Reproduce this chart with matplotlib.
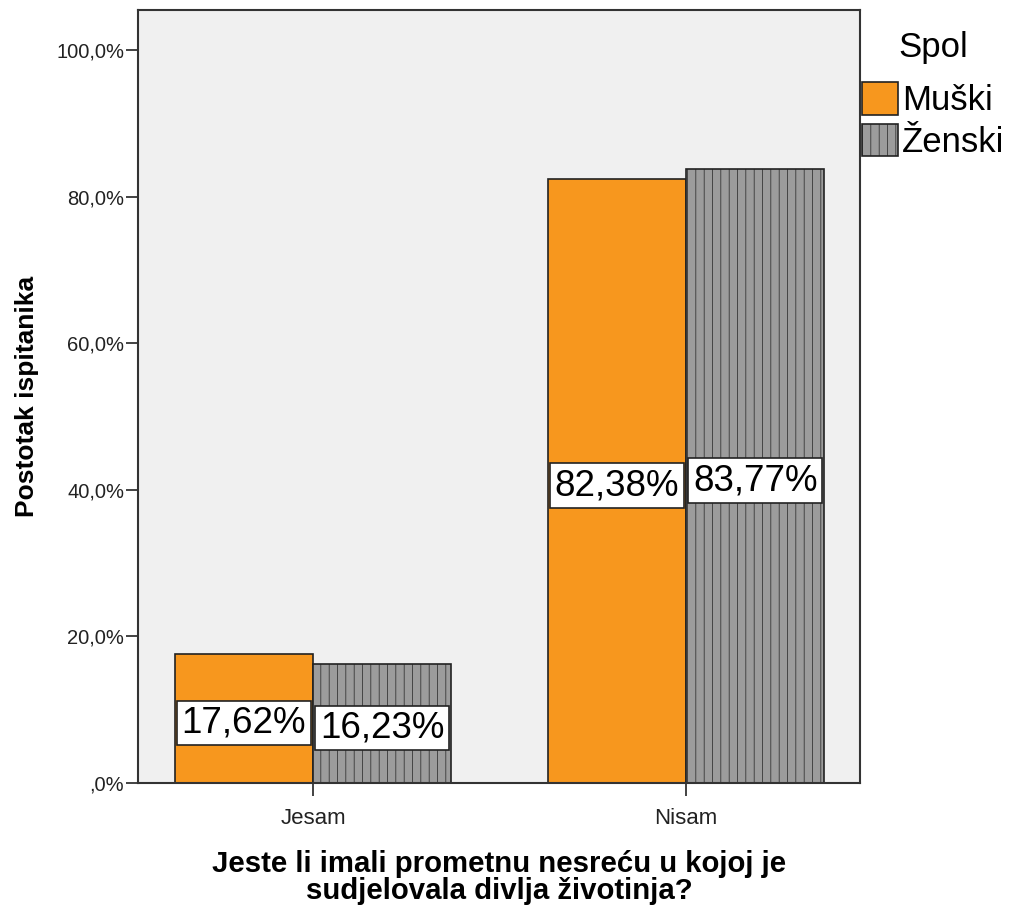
import matplotlib
matplotlib.use("Agg")
import matplotlib.pyplot as plt
import numpy as np

plt.rcParams['font.family'] = ['Liberation Sans', 'DejaVu Sans']
plt.rcParams['hatch.color'] = '#808080'
plt.rcParams['hatch.linewidth'] = 0.5

# data
categories = ['Jesam', 'Nisam']
muski = [17.62, 82.38]
zenski = [16.23, 83.77]
series_names = ['Muški', 'Ženski']
yticks = [0, 20, 40, 60, 80, 100]

orange = '#f7971e'
grey = '#9c9c9c'

fig = plt.figure(figsize=(10.1, 9.1), dpi=100)
ax = fig.add_axes([138 / 1010, 1 - 783 / 910, 722 / 1010, 773 / 910])
ax.set_facecolor('#f0f0f0')

x = np.arange(len(categories))
w = 0.37
b1 = ax.bar(x - w / 2, muski, w, color=orange, edgecolor='#222222', linewidth=1.2,
            label=series_names[0])
b2 = ax.bar(x + w / 2, zenski, w, color=grey, edgecolor='#222222', linewidth=1.2,
            hatch='||', label=series_names[1])

def fmt(v):
    return f"{v:.2f}%".replace('.', ',')

for bars, vals in [(b1, muski), (b2, zenski)]:
    for r, v in zip(bars, vals):
        ax.text(r.get_x() + r.get_width() / 2, v / 2 - 0.6, fmt(v), ha='center', va='center',
                fontsize=26.5,
                bbox=dict(boxstyle='square,pad=0.13', facecolor='white',
                          edgecolor='#222222', linewidth=1.2))

ax.set_xlim(-0.469, 1.466)
ax.set_ylim(0, 105.5)
ax.set_xticks(x)
ax.set_xticklabels(categories, fontsize=16, color='#222222')
ax.set_yticks(yticks)
ylabels = []
for t in yticks:
    s = f"{t:.1f}%".replace('.', ',')
    if s.startswith('0'):
        s = s[1:]
    ylabels.append(s)
ax.set_yticklabels(ylabels, fontsize=14.5, color='#222222')
ax.tick_params(axis='both', direction='out', length=9, width=1.2, color='#222222')
ax.tick_params(axis='x', pad=9)
ax.tick_params(axis='y', pad=1)
for sp in ax.spines.values():
    sp.set_color('#333333')
    sp.set_linewidth(1.5)

ax.set_ylabel('Postotak ispitanika', fontsize=19, fontweight='bold', labelpad=12)
ax.set_xlabel('Jeste li imali prometnu nesreću u kojoj je\nsudjelovala divlja životinja?',
              fontsize=21.2, fontweight='bold', labelpad=15, linespacing=0.98)

leg = ax.legend(loc='upper left', bbox_to_anchor=(0.998, 0.977), frameon=False,
                title='Spol', fontsize=25, title_fontsize=25,
                handlelength=1.05, handleheight=1.05, handletextpad=0.1,
                borderaxespad=0.0, labelspacing=0.2, borderpad=0.1)
leg._legend_box.sep = 13

fig.savefig('out.png', dpi=100)
